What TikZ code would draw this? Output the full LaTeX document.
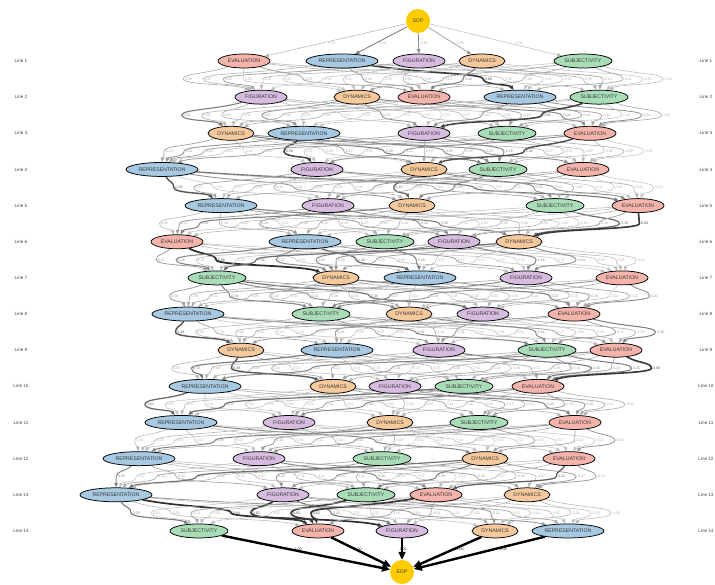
\documentclass[tikz,border=0pt]{standalone}
\usepackage{fontspec}
\setmainfont{Liberation Sans}
\usetikzlibrary{shapes.geometric,arrows.meta,backgrounds}
\definecolor{cEVAL}{HTML}{F4B3AB}
\definecolor{cREP}{HTML}{A7C9E2}
\definecolor{cFIG}{HTML}{D6BCDF}
\definecolor{cDYN}{HTML}{F6C99C}
\definecolor{cSUBJ}{HTML}{A9DDB8}
\definecolor{cgold}{HTML}{FFCC00}
\pgfkeys{/pgf/number format/assume math mode=true}
\newcount\rankc
\tikzset{
  st/.style={ellipse, draw=black, line width=0.75pt, inner sep=0pt, minimum height=14pt,
     font=\fontsize{5.2}{6}\selectfont, text=black!78},
  EVALUATION/.style={st, fill=cEVAL, minimum width=52pt},
  REPRESENTATION/.style={st, fill=cREP, minimum width=72pt},
  FIGURATION/.style={st, fill=cFIG, minimum width=52pt},
  DYNAMICS/.style={st, fill=cDYN, minimum width=46pt},
  SUBJECTIVITY/.style={st, fill=cSUBJ, minimum width=58pt},
  endpt/.style={circle, fill=cgold, minimum size=24pt, inner sep=0pt, font=\fontsize{5.2}{6}\selectfont, text=black!75},
  linelab/.style={font=\fontsize{4.6}{5}\selectfont, text=black!75, inner sep=0pt},
  elab/.style={font=\fontsize{3.6}{4}\selectfont, anchor=west, inner sep=0.4pt},
  tip/.style={-{Triangle[length=4.5pt,width=3.6pt]}},
  bigtip/.style={-{Triangle[length=8pt,width=7pt]}},
}
\expandafter\def\csname W1-2-4\endcsname{0.60}
\expandafter\def\csname W2-5-3\endcsname{0.56}
\expandafter\def\csname W3-2-2\endcsname{0.56}
\expandafter\def\csname W3-5-3\endcsname{0.50}
\expandafter\def\csname W4-1-1\endcsname{0.48}
\expandafter\def\csname W4-3-3\endcsname{0.40}
\expandafter\def\csname W5-4-5\endcsname{0.38}
\expandafter\def\csname W5-5-5\endcsname{0.60}
\expandafter\def\csname W6-1-2\endcsname{0.66}
\expandafter\def\csname W6-2-3\endcsname{0.40}
\expandafter\def\csname W8-1-1\endcsname{0.48}
\expandafter\def\csname W9-1-2\endcsname{0.48}
\expandafter\def\csname W9-5-5\endcsname{0.60}
\expandafter\def\csname W10-1-1\endcsname{0.40}
\expandafter\def\csname W12-5-4\endcsname{0.42}
\expandafter\def\csname W13-1-3\endcsname{0.64}
\expandafter\def\csname W13-2-2\endcsname{0.62}
\expandafter\def\csname W13-3-2\endcsname{0.60}
\expandafter\def\csname W13-4-2\endcsname{0.62}
\begin{document}
\begin{tikzpicture}[x=1pt,y=-1pt]
\useasboundingbox (0,0) rectangle (715,585);
\pgfmathsetseed{4242}
\node[endpt] (sop) at (418,21) {SOP};
\node[endpt] (eop) at (402,572) {EOP};
\foreach \l/\d in {
 1/{244/EVALUATION,342/REPRESENTATION,419/FIGURATION,482/DYNAMICS,583/SUBJECTIVITY},
 2/{261/FIGURATION,357/DYNAMICS,424/EVALUATION,520/REPRESENTATION,599/SUBJECTIVITY},
 3/{231/DYNAMICS,304/REPRESENTATION,424/FIGURATION,507/SUBJECTIVITY,590/EVALUATION},
 4/{162/REPRESENTATION,317/FIGURATION,424/DYNAMICS,498/SUBJECTIVITY,583/EVALUATION},
 5/{221/REPRESENTATION,328/FIGURATION,412/DYNAMICS,555/SUBJECTIVITY,638/EVALUATION},
 6/{177/EVALUATION,305/REPRESENTATION,385/SUBJECTIVITY,454/FIGURATION,519/DYNAMICS},
 7/{217/SUBJECTIVITY,336/DYNAMICS,420/REPRESENTATION,526/FIGURATION,622/EVALUATION},
 8/{188/REPRESENTATION,321/SUBJECTIVITY,409/DYNAMICS,483/FIGURATION,574/EVALUATION},
 9/{241/DYNAMICS,337/REPRESENTATION,439/FIGURATION,547/SUBJECTIVITY,616/EVALUATION},
 10/{205/REPRESENTATION,333/DYNAMICS,395/FIGURATION,464/SUBJECTIVITY,538/EVALUATION},
 11/{181/REPRESENTATION,289/FIGURATION,390/DYNAMICS,479/SUBJECTIVITY,575/EVALUATION},
 12/{139/REPRESENTATION,259/FIGURATION,382/SUBJECTIVITY,485/DYNAMICS,569/EVALUATION},
 13/{116/REPRESENTATION,283/FIGURATION,366/SUBJECTIVITY,436/EVALUATION,527/DYNAMICS},
 14/{199/SUBJECTIVITY,318/EVALUATION,402/FIGURATION,495/DYNAMICS,568/REPRESENTATION}} {
  \pgfmathsetmacro\yy{61+(\l-1)*36.15}
  \node[linelab] (lab\l a) at (21,\yy) {Line \l};
  \node[linelab] (lab\l b) at (706,\yy) {Line \l};
  \foreach \x/\t [count=\j] in \d {
    \node[\t] (L\l-\j) at (\x,\yy) {\t};
    \expandafter\xdef\csname X\l-\j\endcsname{\x}
  }
}
\begin{pgfonlayer}{background}
% start edges
\draw[tip, draw=black!30, line width=0.55pt] (sop) -- (L1-1);
\draw[tip, draw=black!50, line width=0.9pt] (sop) -- (L1-2);
\draw[tip, draw=black!45, line width=0.8pt] (sop) -- (L1-3);
\draw[tip, draw=black!40, line width=0.7pt] (sop) -- (L1-4);
\draw[tip, draw=black!28, line width=0.5pt] (sop) -- (L1-5);
\node[elab, text=black!30] (s1) at (328,43) {0.21};
\node[elab, text=black!35] (s2) at (379,43) {0.36};
\node[elab, text=black!35] (s3) at (420,43) {0.26};
\node[elab, text=black!32] (s4) at (456,43) {0.16};
\node[elab, text=black!28] (s5) at (515,43) {0.03};
% end edges
\foreach \j/\lx in {1/294,2/354,3/399,4/456,5/499}{
  \draw[bigtip, draw=black, line width=2.4pt] (L14-\j) -- (eop);
  \node[elab, text=black!85] (t\j) at (\lx,549) {1.00};
}
% transitions
\foreach \l in {1,...,13}{
  \pgfmathtruncatemacro\m{\l+1}
  \pgfmathsetmacro\ys{61+(\l-1)*36.15}
  \pgfmathsetmacro\ym{\ys+18.075}
  \pgfmathsetmacro\yt{\ys+36.15}
  \edef\cexpr{(\csname X\l-1\endcsname+\csname X\l-2\endcsname+\csname X\l-3\endcsname+\csname X\l-4\endcsname+\csname X\l-5\endcsname+\csname X\m-1\endcsname+\csname X\m-2\endcsname+\csname X\m-3\endcsname+\csname X\m-4\endcsname+\csname X\m-5\endcsname)/10}
  \pgfmathsetmacro\cc{\cexpr}
  % ordering keys
  \foreach \i in {1,...,5}{
    \foreach \j in {1,...,5}{
      \edef\xs{\csname X\l-\i\endcsname}
      \edef\xt{\csname X\m-\j\endcsname}
      \pgfmathsetmacro\kk{(\xs+\xt)/2+0.15*(\xt-\xs)+\i*0.01+\j*0.001}
      \expandafter\xdef\csname K\i-\j\endcsname{\kk}
    }
  }
  \foreach \i in {1,...,5}{
    \foreach \j in {1,...,5}{
      \edef\xs{\csname X\l-\i\endcsname}
      \edef\xt{\csname X\m-\j\endcsname}
      \edef\kb{\csname K\i-\j\endcsname}
      \global\rankc=0
      \foreach \p in {1,...,5}{
        \foreach \q in {1,...,5}{
          \edef\ka{\csname K\p-\q\endcsname}
          \ifdim\ka pt<\kb pt\relax\global\advance\rankc by 1\fi
        }
      }
      \pgfmathsetmacro\xw{\cc+(\the\rankc-12)*20}
      \pgfmathsetmacro\rr{0.02+0.40*rnd*rnd}
      \ifcsname W\l-\i-\j\endcsname \edef\w{\csname W\l-\i-\j\endcsname}\else \let\w\rr\fi
      \pgfmathsetmacro\gl{min(92,22+92*\w)}
      \pgfmathsetmacro\tl{min(85,26+70*\w)}
      \pgfmathsetmacro\lw{0.5+1.9*\w}
      \pgfmathsetmacro\xa{\xs+0.6*(\xw-\xs)}
      \pgfmathsetmacro\xc{\xt+0.3*(\xw-\xt)}
      \draw[tip, draw=black!\gl, line width=\lw pt] (L\l-\i) .. controls (\xa,\ys+13) and (\xw,\ym-6) .. (\xw,\ym) .. controls (\xw,\ym+6) and (\xc,\yt-13) .. (L\m-\j);
      \node[elab, text=black!\tl] (e\l-\i-\j) at (\xw+1.2,\ym) {\pgfmathprintnumber[fixed,fixed zerofill,precision=2]{\w}};
    }
  }
}
\end{pgfonlayer}
\end{tikzpicture}
\end{document}
